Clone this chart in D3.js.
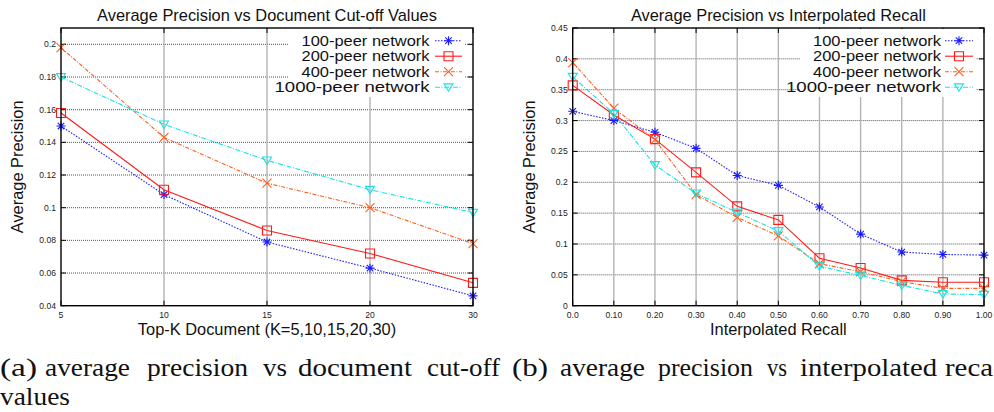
<!DOCTYPE html>
<html>
<head>
<meta charset="utf-8">
<script src="https://cdn.jsdelivr.net/npm/d3@7"></script>
<style>
  html, body { margin: 0; padding: 0; background: #fff; }
  svg { display: block; }
  text { font-family: "Liberation Sans", Arial, sans-serif; }
  .cap { font-family: "Liberation Serif", "DejaVu Serif", serif; fill: #111; }
</style>
</head>
<body>
<svg id="fig" width="994" height="412"></svg>
<script>
// ---- Panel (a): precision at document cut-off K ----
const cutoffs = [5, 10, 15, 20, 30];
const cutoffPeer100  = [0.150, 0.108, 0.079, 0.063, 0.046];
const cutoffPeer200  = [0.158, 0.111, 0.086, 0.072, 0.054];
const cutoffPeer400  = [0.198, 0.143, 0.115, 0.100, 0.078];
const cutoffPeer1000 = [0.180, 0.151, 0.129, 0.111, 0.097];
const cutoffYTicks = [0.04, 0.06, 0.08, 0.10, 0.12, 0.14, 0.16, 0.18, 0.20];
const cutoffYLabels = ["0.04", "0.06", "0.08", "0.1", "0.12", "0.14", "0.16", "0.18", "0.2"];

// ---- Panel (b): interpolated precision-recall ----
const recallLevels = [0.0, 0.1, 0.2, 0.3, 0.4, 0.5, 0.6, 0.7, 0.8, 0.9, 1.0];
const recallLabels = ["0.0", "0.10", "0.20", "0.30", "0.40", "0.50", "0.60", "0.70", "0.80", "0.90", "1.00"];
const recallPeer100  = [0.315, 0.300, 0.281, 0.255, 0.211, 0.195, 0.160, 0.116, 0.087, 0.083, 0.082];
const recallPeer200  = [0.357, 0.309, 0.270, 0.216, 0.161, 0.139, 0.077, 0.061, 0.041, 0.038, 0.038];
const recallPeer400  = [0.394, 0.320, 0.269, 0.180, 0.143, 0.113, 0.068, 0.055, 0.039, 0.028, 0.028];
const recallPeer1000 = [0.371, 0.311, 0.228, 0.182, 0.151, 0.121, 0.064, 0.049, 0.033, 0.019, 0.018];
const recallYTicks = [0, 0.05, 0.10, 0.15, 0.20, 0.25, 0.30, 0.35, 0.40, 0.45];
const recallYLabels = ["0", "0.05", "0.1", "0.15", "0.2", "0.25", "0.3", "0.35", "0.4", "0.45"];

const seriesNames = ["100-peer network", "200-peer network", "400-peer network", "1000-peer network"];

// line style and point type per network size
const styles = [
  { color: "#1a1aff", dash: "1.5,1.5", marker: "star" },
  { color: "#ff1a1a", dash: null,      marker: "square" },
  { color: "#ff5f1f", dash: "4,1.5,1,1.5", marker: "cross" },
  { color: "#19e3e3", dash: "5,1.5,1,1.5", marker: "tri" }
];

const svg = d3.select("#fig");

function markerPath(kind) {
  const r = 4.5;
  switch (kind) {
    case "star":   return `M${-r},0H${r}M0,${-r}V${r}M${-r*0.72},${-r*0.72}L${r*0.72},${r*0.72}M${-r*0.72},${r*0.72}L${r*0.72},${-r*0.72}`;
    case "square": return `M${-r},${-r}H${r}V${r}H${-r}Z`;
    case "cross":  return `M${-r},${-r}L${r},${r}M${-r},${r}L${r},${-r}`;
    case "tri":    return `M${-r},${-r*0.75}H${r}L0,${r*0.9}Z`;
  }
}

function drawMarker(g, x, y, st) {
  g.append("path")
    .attr("transform", `translate(${x},${y})`)
    .attr("d", markerPath(st.marker))
    .attr("fill", "none")
    .attr("stroke", st.color)
    .attr("stroke-width", 1.1);
}

function panel(opts) {
  const { left, right, y0: top, y1: bottom, x, xTickVals, xTickLabels, y, yTickVals, yTickLabels,
          xs, series, title, xTitle, yTitle, yTitleX, legendBox } = opts;
  const g = svg.append("g");

  // horizontal grid (dotted)
  g.selectAll(".hg").data(yTickVals.filter(v => y(v) > top + 1 && y(v) < bottom - 1))
    .enter().append("line")
    .attr("x1", left).attr("x2", right)
    .attr("y1", d => y(d)).attr("y2", d => y(d))
    .attr("stroke", "#555").attr("stroke-width", 1).attr("stroke-dasharray", "1,1");

  // vertical grid (light solid)
  g.selectAll(".vg").data(xTickVals.filter(v => x(v) > left + 1 && x(v) < right - 1))
    .enter().append("line")
    .attr("x1", d => x(d)).attr("x2", d => x(d))
    .attr("y1", top).attr("y2", bottom)
    .attr("stroke", "#b4b4b4").attr("stroke-width", 1.4);

  // inward ticks on all four sides
  const tl = 5;
  yTickVals.forEach(v => {
    g.append("line").attr("x1", left).attr("x2", left + tl).attr("y1", y(v)).attr("y2", y(v)).attr("stroke", "#000");
    g.append("line").attr("x1", right - tl).attr("x2", right).attr("y1", y(v)).attr("y2", y(v)).attr("stroke", "#000");
  });
  xTickVals.forEach(v => {
    g.append("line").attr("x1", x(v)).attr("x2", x(v)).attr("y1", bottom).attr("y2", bottom - tl).attr("stroke", "#000");
    g.append("line").attr("x1", x(v)).attr("x2", x(v)).attr("y1", top).attr("y2", top + tl).attr("stroke", "#000");
  });

  // legend box, opaque over the grid
  g.append("rect")
    .attr("x", legendBox.x).attr("y", top + 1)
    .attr("width", legendBox.w).attr("height", legendBox.h)
    .attr("fill", "#fff");

  // series lines and points
  const line = d3.line().x((d, i) => x(xs[i])).y(d => y(d));
  series.forEach((vals, si) => {
    const st = styles[si];
    g.append("path").datum(vals)
      .attr("d", line)
      .attr("fill", "none")
      .attr("stroke", st.color)
      .attr("stroke-width", 1.1)
      .attr("stroke-dasharray", st.dash);
    vals.forEach((v, i) => drawMarker(g, x(xs[i]), y(v), st));
  });

  // legend entries (tightly stacked rows)
  const rowY = [40.7, 56.2, 71.7, 87.2];
  seriesNames.forEach((name, si) => {
    const st = styles[si];
    const yy = rowY[si];
    const w = name.length === 17 ? 155 : 128;
    g.append("text")
      .attr("x", legendBox.textRight - w).attr("y", yy)
      .attr("dy", "0.36em")
      .attr("font-size", 14.6)
      .attr("textLength", w).attr("lengthAdjust", "spacingAndGlyphs")
      .attr("fill", "#111")
      .text(name);
    g.append("line")
      .attr("x1", legendBox.sample0).attr("x2", legendBox.sample1)
      .attr("y1", yy).attr("y2", yy)
      .attr("stroke", st.color).attr("stroke-width", 1.1)
      .attr("stroke-dasharray", st.dash);
    drawMarker(g, (legendBox.sample0 + legendBox.sample1) / 2, yy, st);
  });

  // frame
  g.append("rect")
    .attr("x", left).attr("y", top)
    .attr("width", right - left).attr("height", bottom - top)
    .attr("fill", "none").attr("stroke", "#000").attr("stroke-width", 1.4);

  // tick labels
  yTickVals.forEach((v, i) => {
    g.append("text")
      .attr("x", left - 5).attr("y", y(v)).attr("dy", "0.35em")
      .attr("text-anchor", "end").attr("font-size", 8.6).attr("fill", "#222")
      .text(yTickLabels[i]);
  });
  xTickVals.forEach((v, i) => {
    g.append("text")
      .attr("x", x(v)).attr("y", bottom + 12.5)
      .attr("text-anchor", "middle").attr("font-size", 8.6).attr("fill", "#222")
      .text(xTickLabels[i]);
  });

  // titles
  g.append("text")
    .attr("x", (left + right) / 2).attr("y", 20.5)
    .attr("text-anchor", "middle").attr("font-size", 16.4).attr("fill", "#111")
    .text(title);
  g.append("text")
    .attr("x", (left + right) / 2).attr("y", bottom + 29.5)
    .attr("text-anchor", "middle").attr("font-size", 16.4).attr("fill", "#111")
    .text(xTitle);
  g.append("text")
    .attr("transform", `translate(${yTitleX},${(top + bottom) / 2}) rotate(-90)`)
    .attr("text-anchor", "middle").attr("font-size", 16.4).attr("fill", "#111")
    .text(yTitle);
}

const plotTop = 28, plotBottom = 305.7;

// panel (a): equally spaced cut-off positions
const xA = d3.scalePoint().domain(cutoffs).range([61, 473]);
const yA = d3.scaleLinear().domain([0.04, 0.21]).range([plotBottom, plotTop]);
panel({
  left: 61, right: 473, y0: plotTop, y1: plotBottom,
  x: xA, xTickVals: cutoffs, xTickLabels: cutoffs.map(String),
  y: yA, yTickVals: cutoffYTicks, yTickLabels: cutoffYLabels,
  xs: cutoffs,
  series: [cutoffPeer100, cutoffPeer200, cutoffPeer400, cutoffPeer1000],
  title: "Average Precision vs Document Cut-off Values",
  xTitle: "Top-K Document (K=5,10,15,20,30)",
  yTitle: "Average Precision",
  yTitleX: 23,
  legendBox: { x: 289, w: 176, h: 68, textRight: 429.5, sample0: 435, sample1: 462 }
});

// panel (b): recall levels on a linear axis
const xB = d3.scaleLinear().domain([0, 1]).range([572.7, 984]);
const yB = d3.scaleLinear().domain([0, 0.45]).range([plotBottom, plotTop]);
panel({
  left: 572.7, right: 984, y0: plotTop, y1: plotBottom,
  x: xB, xTickVals: recallLevels, xTickLabels: recallLabels,
  y: yB, yTickVals: recallYTicks, yTickLabels: recallYLabels,
  xs: recallLevels,
  series: [recallPeer100, recallPeer200, recallPeer400, recallPeer1000],
  title: "Average Precision vs Interpolated Recall",
  xTitle: "Interpolated Recall",
  yTitle: "Average Precision",
  yTitleX: 535,
  legendBox: { x: 800, w: 176, h: 68, textRight: 941, sample0: 945, sample1: 973 }
});

// sub-figure captions, justified word by word
const capA1 = [["(a)", 0, 37], ["average", 45, 85], ["precision", 147, 101], ["vs", 263, 24], ["document", 298, 114], ["cut-off", 427, 73]];
const capA2 = [["values", 0, 70]];
const capB1 = [["(b)", 512, 36], ["average", 560, 85], ["precision", 658, 95], ["vs", 767, 20], ["interpolated", 800, 137], ["reca", 945, 48]];
function capLine(words, yBase) {
  words.forEach(([w, x0, wd]) => {
    svg.append("text").attr("class", "cap")
      .attr("x", x0).attr("y", yBase)
      .attr("font-size", 26)
      .attr("textLength", wd).attr("lengthAdjust", "spacingAndGlyphs")
      .text(w);
  });
}
capLine(capA1, 376);
capLine(capA2, 405);
capLine(capB1, 376);
</script>
</body>
</html>
